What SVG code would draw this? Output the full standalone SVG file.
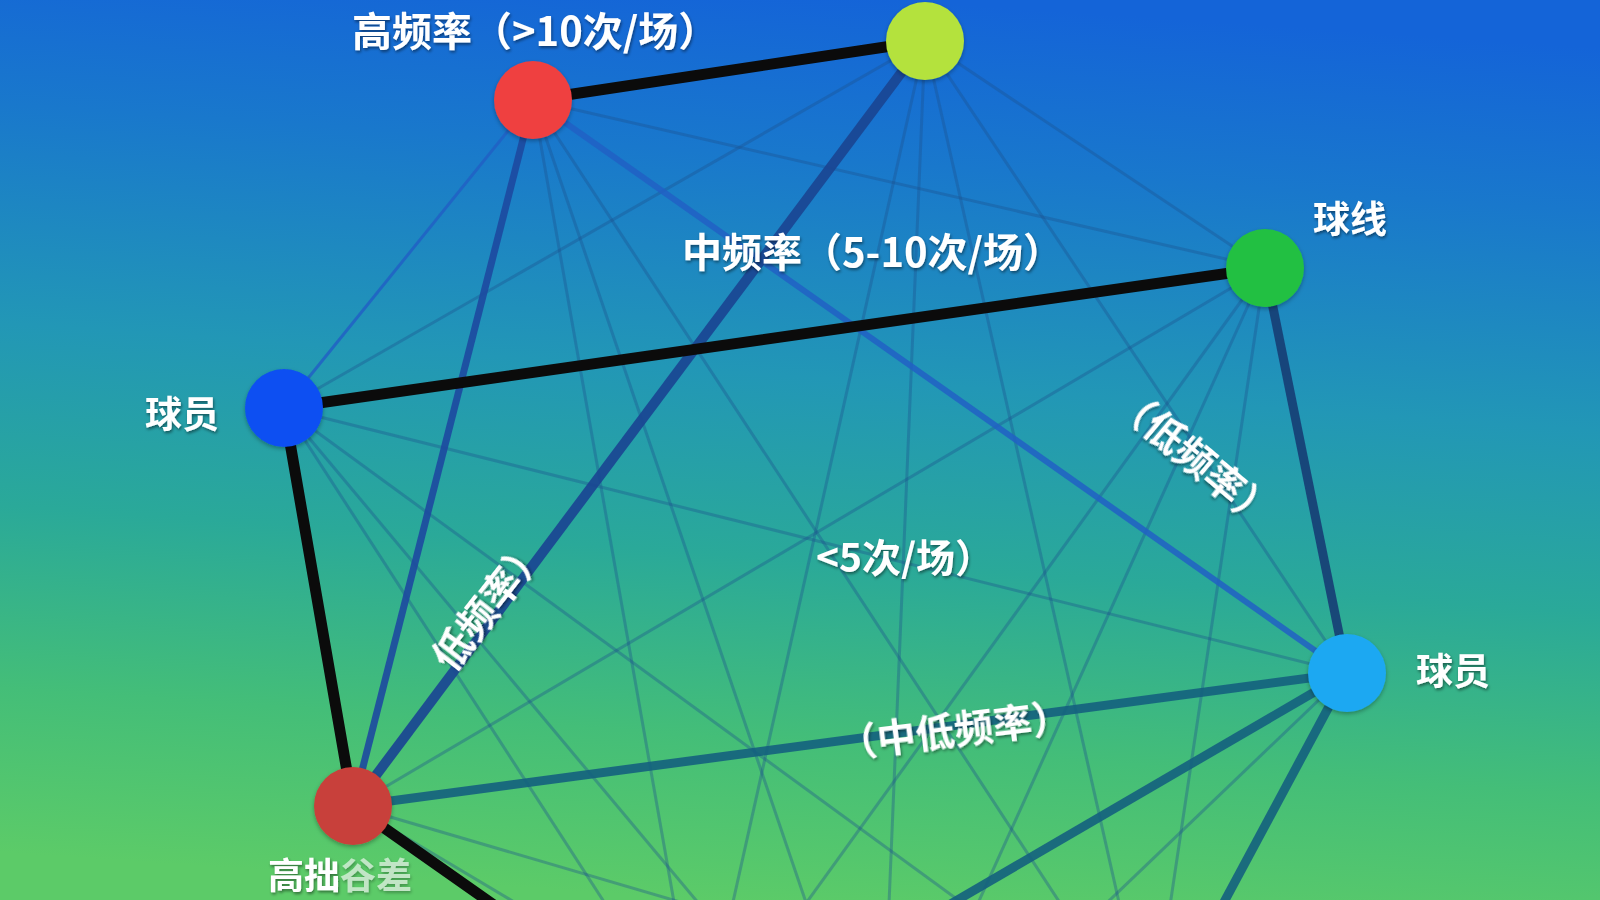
<svg xmlns="http://www.w3.org/2000/svg" width="1600" height="900" viewBox="0 0 1600 900">
<defs>
<linearGradient id="bg" x1="0.56" y1="0" x2="0.44" y2="1">
<stop offset="0" stop-color="#1464d8"/>
<stop offset="0.18" stop-color="#1978cc"/>
<stop offset="0.42" stop-color="#2297b6"/>
<stop offset="0.62" stop-color="#2aa999"/>
<stop offset="0.82" stop-color="#44be78"/>
<stop offset="1" stop-color="#5ccb68"/>
</linearGradient>
<filter id="sh" x="-20%" y="-20%" width="140%" height="140%">
<feDropShadow dx="1" dy="2" stdDeviation="1.5" flood-color="#000" flood-opacity="0.45"/>
</filter>
<filter id="nsh" x="-30%" y="-30%" width="160%" height="160%">
<feDropShadow dx="0" dy="2" stdDeviation="2" flood-color="#000" flood-opacity="0.3"/>
</filter>
</defs>
<style>
.lbl{font-family:"Noto Sans CJK SC","Noto Sans",sans-serif;font-weight:700;fill:#ffffff;filter:url(#sh)}
.thin{stroke:#1d4f8c;stroke-opacity:0.36;stroke-width:3;fill:none}
.black{stroke:#0b0b0b;stroke-width:11;stroke-linecap:round}
.dark{stroke:#1a4592;stroke-opacity:0.92;stroke-width:10}
.navy{stroke:#173f75;stroke-opacity:0.92;stroke-width:9}
.teal{stroke:#14607e;stroke-opacity:0.9;stroke-width:9}
.blue{stroke:#2160c4;stroke-opacity:0.85}
.node{stroke:none;filter:url(#nsh)}
</style>
<rect x="0" y="0" width="1600" height="900" fill="url(#bg)"/>
<g id="connectors">
<line class="thin" x1="533" y1="100" x2="1265" y2="268"/>
<line class="thin" x1="533" y1="100" x2="700" y2="1050"/>
<line class="thin" x1="533" y1="100" x2="880" y2="1120"/>
<line class="thin" x1="533" y1="100" x2="1150" y2="1040"/>
<line class="thin" x1="925" y1="41" x2="1265" y2="268"/>
<line class="thin" x1="925" y1="41" x2="284" y2="408"/>
<line class="thin" x1="925" y1="41" x2="1347" y2="673"/>
<line class="thin" x1="925" y1="41" x2="700" y2="1050"/>
<line class="thin" x1="925" y1="41" x2="880" y2="1120"/>
<line class="thin" x1="925" y1="41" x2="1150" y2="1040"/>
<line class="thin" x1="1265" y1="268" x2="353" y2="806"/>
<line class="thin" x1="1265" y1="268" x2="700" y2="1050"/>
<line class="thin" x1="1265" y1="268" x2="880" y2="1120"/>
<line class="thin" x1="1265" y1="268" x2="1150" y2="1040"/>
<line class="thin" x1="284" y1="408" x2="1347" y2="673"/>
<line class="thin" x1="284" y1="408" x2="700" y2="1050"/>
<line class="thin" x1="284" y1="408" x2="880" y2="1120"/>
<line class="thin" x1="284" y1="408" x2="1150" y2="1040"/>
<line class="thin" x1="1347" y1="673" x2="880" y2="1120"/>
<line class="thin" x1="353" y1="806" x2="880" y2="1120"/>
<line class="thin" x1="353" y1="806" x2="1150" y2="1040"/>
<line class="blue" stroke-width="3" x1="533" y1="100" x2="284" y2="408"/>
<line class="blue" stroke-width="6" x1="533" y1="100" x2="1347" y2="673"/>
<line stroke="#1d49a0" stroke-opacity="0.9" stroke-width="7" x1="533" y1="100" x2="353" y2="806"/>
<line class="dark" x1="925" y1="41" x2="353" y2="806"/>
<line class="navy" x1="1265" y1="268" x2="1347" y2="673"/>
<line class="teal" x1="353" y1="806" x2="1347" y2="673"/>
<line class="teal" stroke-width="8" x1="1347" y1="673" x2="700" y2="1050"/>
<line class="teal" stroke-width="5" x1="1347" y1="673" x2="1150" y2="1040"/>
<line class="black" x1="533" y1="100" x2="925" y2="41"/>
<line class="black" x1="284" y1="408" x2="1265" y2="268"/>
<line class="black" x1="284" y1="408" x2="353" y2="806"/>
<line class="black" x1="353" y1="806" x2="700" y2="1050"/>
</g>
<g id="node-high"><circle class="node" cx="533" cy="100" r="39" fill="#ef4040"/></g>
<g id="node-top"><circle class="node" cx="925" cy="41" r="39" fill="#b4e23c"/></g>
<g id="node-qiuxian"><circle class="node" cx="1265" cy="268" r="39" fill="#22c043"/></g>
<g id="node-player-left"><circle class="node" cx="284" cy="408" r="39" fill="#0a4ff2"/></g>
<g id="node-player-right"><circle class="node" cx="1347" cy="673" r="39" fill="#1ba8f2"/></g>
<g id="node-bottom-left"><circle class="node" cx="353" cy="806" r="39" fill="#c8403a"/></g>
<g id="labels">
<text class="lbl" x="352" y="46" font-size="40">高频率（&gt;10次/场）</text>
<text class="lbl" x="682" y="267" font-size="40">中频率（5-10次/场）</text>
<text class="lbl" x="1313" y="233" font-size="37">球线</text>
<text class="lbl" x="145" y="428" font-size="37">球员</text>
<text class="lbl" x="1416" y="685" font-size="37">球员</text>
<text class="lbl" x="816" y="572" font-size="39">&lt;5次/场）</text>
<text class="lbl" font-size="39" text-anchor="middle" transform="translate(1186,468) rotate(40)">（低频率）</text>
<text class="lbl" font-size="39" text-anchor="middle" transform="translate(500,612) rotate(-52)">低频率）</text>
<text class="lbl" font-size="39" text-anchor="middle" transform="translate(956,744) rotate(-7)">（中低频率）</text>
<text class="lbl" x="268" y="889" font-size="36">高拙<tspan fill-opacity="0.6">谷差</tspan></text>
</g>
</svg>
